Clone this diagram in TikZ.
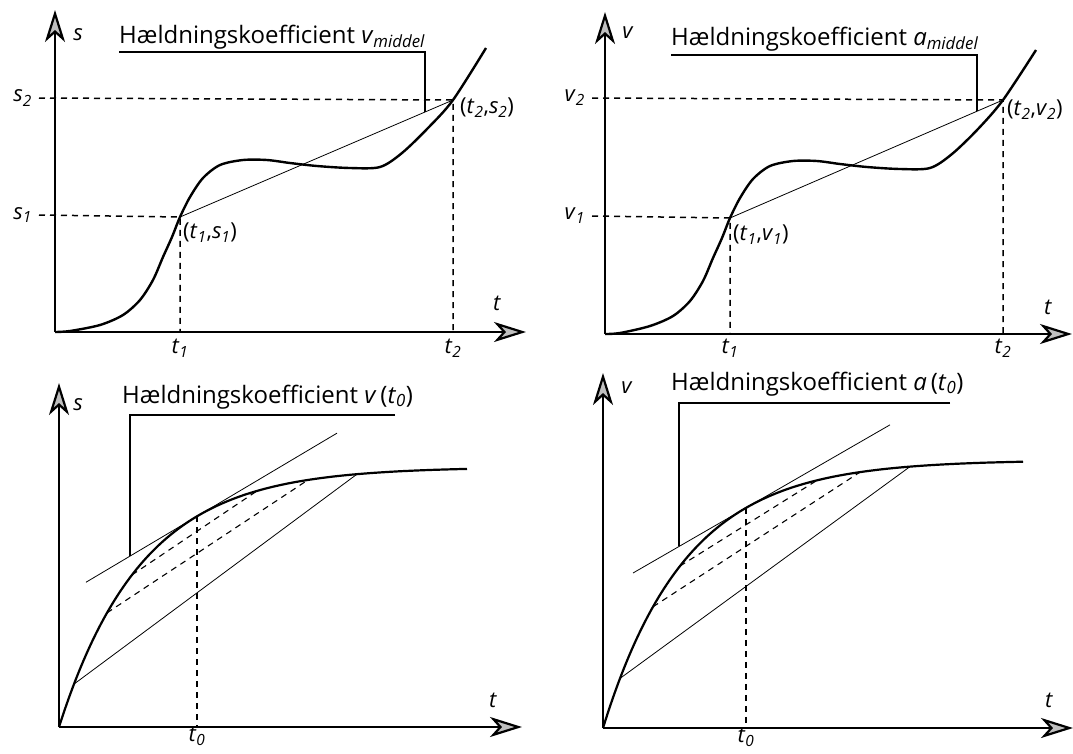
\documentclass[tikz,border=0pt]{standalone}
\usepackage{fontspec}
\setmainfont{Open Sans}
\usetikzlibrary{arrows.meta}

\newcommand{\subit}[2]{\textit{#1}\textsubscript{\textit{#2}}}
% curves of the two lower panels
\pgfmathdeclarefunction{fa}{1}{\pgfmathparse{727-260*(1-exp(-(#1-59)/83))}}
\pgfmathdeclarefunction{ta}{1}{\pgfmathparse{fa(197)-260/83*exp(-138/83)*(#1-197)}}
\pgfmathdeclarefunction{fb}{1}{\pgfmathparse{728-268*(1-exp(-(#1-603)/83))}}
\pgfmathdeclarefunction{tb}{1}{\pgfmathparse{fb(746)-268/83*exp(-143/83)*(#1-746)}}

\begin{document}
\begin{tikzpicture}[x=1pt,y=-1pt,
  axis/.style={line width=2.2pt,-{Stealth[length=32pt,width=20pt,inset=9pt,fill=gray!50]}},
  curve/.style={line width=2.4pt,line join=round},
  thinline/.style={line width=0.8pt},
  guide/.style={line width=1.5pt,dash pattern=on 6pt off 5pt},
  bracket/.style={line width=1.3pt},
  lbl/.style={font=\fontsize{22}{26}\selectfont,inner sep=1pt},
  title/.style={font=\fontsize{24}{28}\selectfont,inner sep=0pt,anchor=base west}]
\useasboundingbox (0,0) rectangle (1073,753);

% top left: s against t
\coordinate (O1) at (55,332);
\coordinate (Y1) at (55,10);
\coordinate (X1) at (526,332);
\coordinate (P1a) at (180,217);
\coordinate (P1b) at (453,100);
\coordinate (B1) at (425,112);
\draw[axis] (O1) -- (Y1);
\draw[axis] (O1) -- (X1);
\draw[curve] plot[smooth,tension=0.5] coordinates {(55,332) (70,331) (100,325) (123,315) (140,300) (153,280) (163,257) (172,237) (180,217) (190,197) (203,178) (220,165) (243,160) (267,160) (290,163) (317,166) (350,168) (380,167) (402,153) (428,128) (453,100) (486,48)};
\draw[thinline] (P1a) -- (P1b);
\node[lbl] (s1lab) at (78,35) {\textit{s}};
\node[lbl] (t1lab) at (497,303) {\textit{t}};
\node[lbl,anchor=east] (s1) at (33,215) {\subit{s}{1}};
\node[lbl,anchor=east] (s2) at (33,98) {\subit{s}{2}};
\node[lbl,anchor=north] (t1) at (180,338) {\subit{t}{1}};
\node[lbl,anchor=north] (t2) at (453,338) {\subit{t}{2}};
\node[lbl,anchor=west] (p1a) at (182,233) {(\subit{t}{1},\subit{s}{1})};
\node[lbl,anchor=west] (p1b) at (459,108) {(\subit{t}{2},\subit{s}{2})};
\draw[guide] ([xshift=6pt]s1.east) -- (P1a) -- (P1a |- O1);
\draw[guide] ([xshift=6pt]s2.east) -- (P1b) -- (P1b |- O1);
\node[title] (h1) at (119,43) {Hældningskoefficient \subit{v}{middel}};
\draw[bracket] ([yshift=-9pt]h1.base west) -| (B1);

% top right: v against t
\coordinate (O2) at (605,334);
\coordinate (Y2) at (605,12);
\coordinate (X2) at (1072,334);
\coordinate (P2a) at (730,218);
\coordinate (P2b) at (1003,100);
\coordinate (B2) at (977,111);
\draw[axis] (O2) -- (Y2);
\draw[axis] (O2) -- (X2);
\draw[curve] plot[smooth,tension=0.5] coordinates {(605,334) (620,333) (650,326) (673,316) (690,301) (703,281) (713,258) (722,238) (730,218) (740,198) (753,179) (770,166) (793,161) (817,161) (840,164) (867,167) (900,169) (930,168) (952,154) (978,129) (1003,100) (1036,50)};
\draw[thinline] (P2a) -- (P2b);
\node[lbl] (v2lab) at (628,33) {\textit{v}};
\node[lbl] (t2lab) at (1048,307) {\textit{t}};
\node[lbl,anchor=east] (v1) at (586,216) {\subit{v}{1}};
\node[lbl,anchor=east] (v2) at (586,98) {\subit{v}{2}};
\node[lbl,anchor=north] (t1r) at (730,338) {\subit{t}{1}};
\node[lbl,anchor=north] (t2r) at (1003,338) {\subit{t}{2}};
\node[lbl,anchor=west] (p2a) at (732,235) {(\subit{t}{1},\subit{v}{1})};
\node[lbl,anchor=west] (p2b) at (1006,110) {(\subit{t}{2},\subit{v}{2})};
\draw[guide] ([xshift=6pt]v1.east) -- (P2a) -- (P2a |- O2);
\draw[guide] ([xshift=6pt]v2.east) -- (P2b) -- (P2b |- O2);
\node[title] (h2) at (671,45) {Hældningskoefficient \subit{a}{middel}};
\draw[bracket] ([yshift=-10pt]h2.base west) -| (B2);

% bottom left: tangent of s
\coordinate (O3) at (59,727);
\coordinate (Y3) at (59,383);
\coordinate (X3) at (522,727);
\coordinate (T3) at (197,{fa(197)});
\coordinate (B3) at (130,{ta(130)});
\draw[axis] (O3) -- (Y3);
\draw[axis] (O3) -- (X3);
\draw[curve,line width=2.2pt] plot[domain=59:467,samples=90,smooth] (\x,{fa(\x)});
\draw[thinline] (86,{ta(86)}) -- (337,{ta(337)});
\draw[thinline] (74,{fa(74)}) -- (357,{fa(357)});
\draw[guide,line width=1.1pt] (107,{fa(107)}) -- (308,{fa(308)});
\draw[guide,line width=1.1pt] (132,{fa(132)}) -- (257,{fa(257)});
\draw[guide] (T3) -- (T3 |- O3);
\node[lbl] (s3lab) at (78,405) {\textit{s}};
\node[lbl] (t3lab) at (493,700) {\textit{t}};
\node[lbl,anchor=north] (t03) at (197,726) {\subit{t}{0}};
\node[title] (h3) at (122,403) {Hældningskoefficient \textit{v}\,(\subit{t}{0})};
\draw[bracket] (395,415) -| (B3);

% bottom right: tangent of v
\coordinate (O4) at (603,728);
\coordinate (Y4) at (603,373);
\coordinate (X4) at (1073,728);
\coordinate (T4) at (746,{fb(746)});
\coordinate (B4) at (679,{tb(679)});
\draw[axis] (O4) -- (Y4);
\draw[axis] (O4) -- (X4);
\draw[curve,line width=2.2pt] plot[domain=603:1023,samples=90,smooth] (\x,{fb(\x)});
\draw[thinline] (633,{tb(633)}) -- (890,{tb(890)});
\draw[thinline] (620,{fb(620)}) -- (910,{fb(910)});
\draw[guide,line width=1.1pt] (653,{fb(653)}) -- (860,{fb(860)});
\draw[guide,line width=1.1pt] (680,{fb(680)}) -- (817,{fb(817)});
\draw[guide] (T4) -- (T4 |- O4);
\node[lbl] (v4lab) at (627,388) {\textit{v}};
\node[lbl] (t4lab) at (1049,700) {\textit{t}};
\node[lbl,anchor=north] (t04) at (746,727) {\subit{t}{0}};
\node[title] (h4) at (671,390) {Hældningskoefficient \textit{a}\,(\subit{t}{0})};
\draw[bracket] (950,403) -| (B4);

\end{tikzpicture}
\end{document}
